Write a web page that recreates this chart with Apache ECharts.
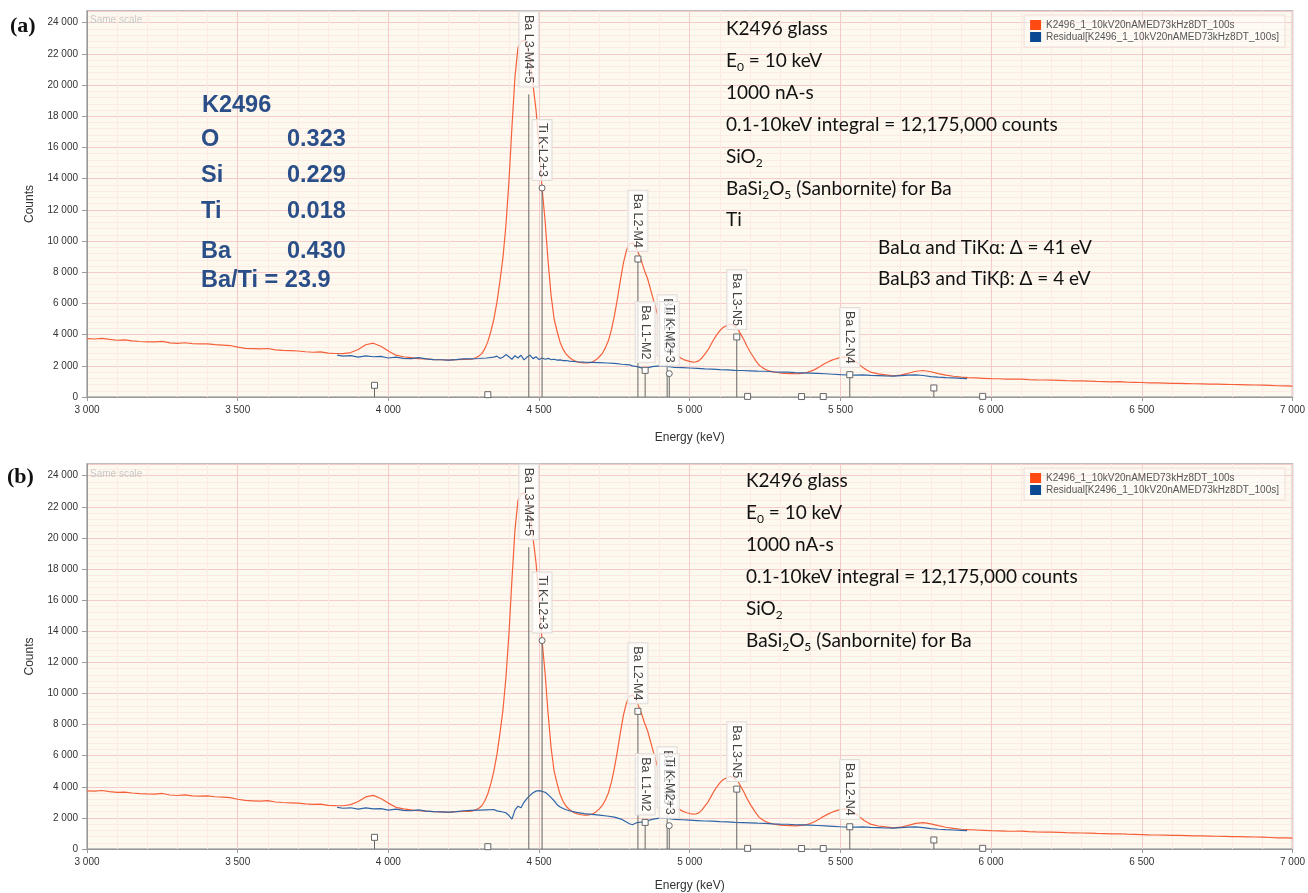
<!DOCTYPE html>
<html>
<head>
<meta charset="utf-8">
<script src="https://cdn.jsdelivr.net/npm/echarts@6/dist/echarts.min.js"></script>
<style>
  html, body { margin: 0; padding: 0; background: #fff; }
  #chart { width: 1308px; height: 893px; }
</style>
</head>
<body>
<div id="chart"></div>
<script>
// 能谱数据 (能量 eV, 计数)
var energy = [
  3000, 3025, 3050, 3075, 3100, 3125, 3150, 3175, 3200, 3225, 3250, 3275, 3300, 3325, 3350, 3375, 3400,
  3425, 3450, 3475, 3500, 3525, 3550, 3575, 3600, 3625, 3650, 3675, 3700, 3725, 3750, 3775, 3800, 3825,
  3850, 3875, 3900, 3925, 3950, 3975, 4000, 4025, 4050, 4075, 4100, 4125, 4150, 4175, 4200, 4225, 4250,
  4260, 4270, 4280, 4290, 4300, 4310, 4320, 4330, 4340, 4350, 4360, 4370, 4380, 4390, 4400, 4410, 4420,
  4430, 4440, 4450, 4460, 4470, 4480, 4490, 4500, 4510, 4520, 4530, 4540, 4550, 4560, 4570, 4580, 4590,
  4600, 4610, 4620, 4630, 4640, 4650, 4660, 4670, 4680, 4690, 4700, 4710, 4720, 4730, 4740, 4750, 4760,
  4770, 4780, 4790, 4800, 4810, 4820, 4830, 4840, 4850, 4860, 4870, 4880, 4890, 4900, 4910, 4920, 4930,
  4940, 4950, 4960, 4970, 4980, 4990, 5000, 5010, 5020, 5030, 5040, 5050, 5060, 5070, 5080, 5090, 5100,
  5110, 5120, 5130, 5140, 5150, 5160, 5170, 5180, 5190, 5200, 5210, 5220, 5230, 5240, 5250, 5260, 5270,
  5280, 5290, 5300, 5310, 5320, 5330, 5340, 5350, 5360, 5370, 5380, 5390, 5400, 5410, 5420, 5430, 5440,
  5450, 5460, 5470, 5480, 5490, 5500, 5510, 5520, 5530, 5540, 5550, 5560, 5570, 5580, 5590, 5600,
  5625, 5650, 5675, 5700, 5725, 5750, 5775, 5800, 5825, 5850, 5875, 5900, 5925, 5950, 5975, 6000, 6025,
  6050, 6075, 6100, 6125, 6150, 6175, 6200, 6225, 6250, 6275, 6300, 6325, 6350, 6375, 6400, 6425, 6450,
  6475, 6500, 6525, 6550, 6575, 6600, 6625, 6650, 6675, 6700, 6725, 6750, 6775, 6800, 6825, 6850, 6875,
  6900, 6925, 6950, 6975, 7000
];
var counts = [
  3740, 3720, 3760, 3690, 3640, 3660, 3600, 3560, 3540, 3530, 3570, 3470, 3440, 3480, 3420, 3400, 3410,
  3360, 3330, 3300, 3200, 3120, 3100, 3080, 3110, 3020, 2990, 2970, 2950, 2900, 2870, 2890, 2810, 2790,
  2780, 2850, 3050, 3350, 3450, 3250, 2950, 2680, 2580, 2520, 2460, 2440, 2400, 2390, 2360, 2400, 2410,
  2410, 2420, 2450, 2520, 2620, 2780, 3100, 3550, 4200, 5000, 6050, 7400, 8900, 11000, 13800, 17300, 20500,
  22400, 22800, 22900, 22600, 21600, 20000, 18400, 16000, 13400, 11300, 8700, 6500, 5000, 4200, 3500, 3050, 2750,
  2550, 2400, 2300, 2240, 2200, 2180, 2180, 2200, 2280, 2400, 2580, 2800, 3150, 3600, 4300, 5200, 6300,
  7500, 8600, 9400, 9800, 9900, 9700, 9200, 8700, 8100, 7600, 6900, 6200, 5500, 4800, 4300, 3800, 3400,
  3100, 2850, 2650, 2500, 2400, 2330, 2280, 2240, 2250, 2320, 2500, 2750, 3000, 3350, 3700, 4000, 4250,
  4450, 4550, 4650, 4650, 4500, 4350, 4000, 3650, 3250, 2900, 2600, 2300, 2050, 1900, 1780, 1700, 1640,
  1600, 1570, 1540, 1520, 1510, 1500, 1500, 1490, 1500, 1510, 1540, 1580, 1640, 1720, 1820, 1930, 2050,
  2160, 2260, 2350, 2420, 2480, 2540, 2570, 2560, 2500, 2400, 2270, 2120, 1960, 1820, 1700, 1600,
  1480, 1420, 1360, 1400, 1520, 1650, 1700, 1620, 1500, 1400, 1330, 1270, 1240, 1220, 1200, 1180, 1170,
  1150, 1140, 1150, 1120, 1100, 1090, 1080, 1070, 1050, 1040, 1030, 1020, 1000, 990, 970, 980, 950,
  940, 930, 910, 900, 890, 880, 870, 860, 850, 840, 830, 820, 810, 800, 790, 780, 770,
  760, 740, 720, 710, 700
];

// 残差 (a) 与 (b)
var resEnergy = [
  3830, 3850, 3875, 3900, 3925, 3950, 3975, 4000, 4025, 4050, 4075, 4100, 4125, 4150, 4175, 4200, 4225,
  4250, 4275, 4300, 4325, 4350, 4360, 4370, 4380, 4390, 4400, 4410, 4420, 4430, 4440, 4450, 4460, 4470,
  4480, 4490, 4500, 4510, 4520, 4530, 4540, 4550, 4560, 4570, 4580, 4590, 4600, 4625, 4650, 4675, 4700,
  4725, 4750, 4775, 4800, 4810, 4825, 4850, 4875, 4900, 4925, 4950, 4975, 5000, 5025, 5050, 5075, 5100,
  5125, 5150, 5175, 5200, 5225, 5250, 5275, 5300, 5325, 5350, 5375, 5400, 5425, 5450, 5475, 5500, 5525,
  5550, 5575, 5600, 5625, 5650, 5675, 5700, 5725, 5750, 5775, 5800, 5825, 5850, 5875, 5900, 5920
];
var residualA = [
  2680, 2620, 2650, 2560, 2640, 2580, 2600, 2500, 2560, 2480, 2460, 2520, 2440, 2400, 2390, 2370, 2400,
  2440, 2450, 2470, 2500, 2560, 2620, 2480, 2550, 2720, 2580, 2420, 2650, 2500, 2680, 2380, 2560, 2680,
  2460, 2580, 2400, 2500, 2420, 2480, 2400, 2420, 2360, 2380, 2330, 2340, 2300, 2260, 2230, 2220, 2200,
  2180, 2150, 2100, 2060, 2000, 1950, 1820, 1950, 2000, 1960, 1900, 1880, 1860, 1830, 1800, 1790, 1760,
  1740, 1710, 1700, 1680, 1660, 1650, 1620, 1600, 1590, 1560, 1550, 1530, 1510, 1490, 1460, 1430, 1410,
  1400, 1420, 1390, 1370, 1350, 1340, 1370, 1400, 1420, 1380, 1310, 1270, 1240, 1220, 1200, 1180
];
var residualB = [
  2680, 2620, 2650, 2560, 2640, 2580, 2600, 2500, 2560, 2480, 2460, 2520, 2440, 2400, 2390, 2370, 2400,
  2460, 2480, 2500, 2520, 2540, 2450, 2420, 2380, 2330, 2150, 1920, 2500, 2750, 2650, 3000, 3250, 3450,
  3620, 3720, 3750, 3700, 3650, 3500, 3300, 3100, 2850, 2700, 2600, 2520, 2460, 2360, 2280, 2230, 2180,
  2120, 2050, 1900, 1620, 1560, 1700, 1750, 1900, 1980, 1960, 1900, 1880, 1860, 1830, 1800, 1790, 1760,
  1740, 1710, 1700, 1680, 1660, 1650, 1620, 1600, 1590, 1560, 1550, 1530, 1510, 1490, 1460, 1430, 1410,
  1400, 1420, 1390, 1370, 1350, 1340, 1370, 1400, 1420, 1380, 1310, 1270, 1240, 1220, 1200, 1180
];

// KLM 谱线标记
var lineEnergy = [4466, 4510, 4828, 4852, 4925, 4932, 5156, 5531, 3954, 4330, 5192, 5371, 5443, 5810, 5972];
var lineTop = [19400, 13400, 8850, 1710, 2150, 1500, 3850, 1430, 750, 150, 40, 30, 30, 580, 40];
var lineLabel = ['Ba L3-M4+5', 'Ti K-L2+3', 'Ba L2-M4', 'Ba L1-M2', 'Ba L1-M3', 'Ti K-M2+3',
  'Ba L3-N5', 'Ba L2-N4', '', '', '', '', '', '', ''];
var noMarker = { 'Ba L3-M4+5': true, 'Ba L1-M3': true };

var specName = 'K2496_1_10kV20nAMED73kHz8DT_100s';
var resName = 'Residual[K2496_1_10kV20nAMED73kHz8DT_100s]';

var sans = '"Liberation Sans", Arial, sans-serif';
var noteFont = 'Lato, "Noto Sans", sans-serif';

var chart = echarts.init(document.getElementById('chart'));

function fmt(v) {
  return String(v).replace(/\B(?=(\d{3})+(?!\d))/g, ' ');
}

function pairs(xs, ys) {
  return xs.map(function (x, i) { return [x, ys[i]]; });
}

function makeX(idx, gap) {
  return {
    gridIndex: idx, type: 'value', min: 3000, max: 7000, interval: 500,
    name: 'Energy (keV)', nameLocation: 'middle', nameGap: gap,
    nameTextStyle: { fontSize: 12, color: '#333', fontFamily: sans },
    axisLine: { lineStyle: { color: '#999' } },
    axisTick: { length: 4, lineStyle: { color: '#999' } },
    axisLabel: { fontSize: 10, color: '#333', margin: 8, fontFamily: sans, formatter: fmt },
    splitLine: { lineStyle: { color: '#f6caca', width: 1 } },
    minorTick: { show: false, splitNumber: 5 },
    minorSplitLine: { show: true, lineStyle: { color: '#fcebe5', width: 1 } }
  };
}

function makeY(idx) {
  return {
    gridIndex: idx, type: 'value', min: 0, max: 24750, interval: 2000,
    name: 'Counts', nameLocation: 'middle', nameGap: 51, nameRotate: 90,
    nameTextStyle: { fontSize: 12, color: '#333', fontFamily: sans },
    axisLine: { show: true, lineStyle: { color: '#999' } },
    axisTick: { show: true, length: 5, lineStyle: { color: '#999' } },
    axisLabel: { fontSize: 10, color: '#333', margin: 9, fontFamily: sans, formatter: fmt, showMaxLabel: false },
    splitLine: { lineStyle: { color: '#f6caca', width: 1 } },
    minorTick: { show: false, splitNumber: 5 },
    minorSplitLine: { show: true, lineStyle: { color: '#fcebe5', width: 1 } }
  };
}

function renderLines(params, api) {
  var e = api.value(0);
  var c = api.value(1);
  var label = lineLabel[params.dataIndex];
  var base = api.coord([e, 0]);
  var top = api.coord([e, c]);
  var children = [{
    type: 'line',
    shape: { x1: base[0], y1: base[1], x2: top[0], y2: top[1] },
    style: { stroke: '#666', lineWidth: 1 }
  }];
  if (!noMarker[label]) {
    if (label.indexOf('Ti') === 0) {
      children.push({ type: 'circle', shape: { cx: top[0], cy: top[1], r: 3 },
        style: { fill: '#fff', stroke: '#666', lineWidth: 1 } });
    } else {
      children.push({ type: 'rect', shape: { x: top[0] - 3, y: top[1] - 3, width: 6, height: 6 },
        style: { fill: '#fff', stroke: '#666', lineWidth: 1 } });
    }
  }
  if (label) {
    children.push({
      type: 'text', x: top[0], y: top[1] - 8, rotation: -Math.PI / 2,
      style: {
        text: label, align: 'right', verticalAlign: 'middle',
        fontSize: 12.5, fontFamily: sans, fill: '#444',
        backgroundColor: 'rgba(255,255,255,0.72)', borderColor: '#e2dcd8', borderWidth: 1,
        padding: [3, 3]
      }
    });
  }
  return { type: 'group', children: children };
}

function panelSeries(idx, residual) {
  return [
    {
      type: 'line', name: specName, xAxisIndex: idx, yAxisIndex: idx,
      data: pairs(energy, counts), showSymbol: false, silent: true, z: 2,
      lineStyle: { color: '#f5603a', width: 1.2 }, itemStyle: { color: '#f5603a' }
    },
    {
      type: 'line', name: resName, xAxisIndex: idx, yAxisIndex: idx,
      data: pairs(resEnergy, residual), showSymbol: false, silent: true, z: 3,
      lineStyle: { color: '#2e64a6', width: 1.2 }, itemStyle: { color: '#2e64a6' }
    },
    {
      type: 'custom', xAxisIndex: idx, yAxisIndex: idx, z: 4, silent: true,
      data: pairs(lineEnergy, lineTop), renderItem: renderLines
    }
  ];
}

function makeLegend(top) {
  return {
    top: top, right: 23, orient: 'vertical', icon: 'rect',
    itemWidth: 11, itemHeight: 10, itemGap: 2, padding: [5, 6],
    backgroundColor: 'rgba(255,255,255,0.35)', borderColor: '#f0dcd8', borderWidth: 1,
    textStyle: { fontSize: 10, color: '#555', fontFamily: sans },
    data: [
      { name: specName, itemStyle: { color: '#ff4a14' } },
      { name: resName, itemStyle: { color: '#0b4a92' } }
    ]
  };
}

var rich = {
  n: { fontSize: 19, fontFamily: noteFont, fill: '#111', lineHeight: 24 },
  s: { fontSize: 12, fontFamily: noteFont, fill: '#111', lineHeight: 13, verticalAlign: 'bottom' }
};

function note(x, y, text) {
  return { type: 'text', x: x, y: y, z: 10,
    style: { text: text, rich: rich, verticalAlign: 'middle' } };
}

function blue(x, y, text) {
  return { type: 'text', x: x, y: y, z: 10,
    style: { text: text, verticalAlign: 'middle', font: 'bold 23.5px ' + sans, fill: '#2a4e88' } };
}

function small(x, y, text, font, fill) {
  return { type: 'text', x: x, y: y, z: 10,
    style: { text: text, verticalAlign: 'middle', font: font, fill: fill } };
}

var notesA = [
  note(726, 29, '{n|K2496 glass}'),
  note(726, 61, '{n|E}{s|0}{n| = 10 keV}'),
  note(726, 93, '{n|1000 nA-s}'),
  note(726, 125, '{n|0.1-10keV integral = 12,175,000 counts}'),
  note(726, 157, '{n|SiO}{s|2}'),
  note(726, 189, '{n|BaSi}{s|2}{n|O}{s|5}{n| (Sanbornite) for Ba}'),
  note(726, 220, '{n|Ti}'),
  note(878, 248, '{n|BaLα and TiKα: Δ = 41 eV}'),
  note(878, 279, '{n|BaLβ3 and TiKβ: Δ = 4 eV}'),
  blue(202, 106, 'K2496'),
  blue(201, 140, 'O'), blue(287, 140, '0.323'),
  blue(201, 176, 'Si'), blue(287, 176, '0.229'),
  blue(201, 212, 'Ti'), blue(287, 212, '0.018'),
  blue(201, 252, 'Ba'), blue(287, 252, '0.430'),
  blue(201, 281, 'Ba/Ti = 23.9'),
  small(10, 26, '(a)', 'bold 22px "Liberation Serif", serif', '#111'),
  small(90, 20, 'Same scale', '10px ' + sans, '#c9c9c9')
];

var notesB = [
  note(746, 481, '{n|K2496 glass}'),
  note(746, 513, '{n|E}{s|0}{n| = 10 keV}'),
  note(746, 545, '{n|1000 nA-s}'),
  note(746, 577, '{n|0.1-10keV integral = 12,175,000 counts}'),
  note(746, 609, '{n|SiO}{s|2}'),
  note(746, 641, '{n|BaSi}{s|2}{n|O}{s|5}{n| (Sanbornite) for Ba}'),
  small(7, 477, '(b)', 'bold 22px "Liberation Serif", serif', '#111'),
  small(90, 474, 'Same scale', '10px ' + sans, '#c9c9c9')
];

var option = {
  animation: false,
  backgroundColor: '#fff',
  grid: [
    { left: 87, top: 11, width: 1208, height: 386, show: true,
      backgroundColor: '#fdf9ef', borderColor: '#aaa', borderWidth: 1.5 },
    { left: 87, top: 464, width: 1208, height: 386, show: true,
      backgroundColor: '#fdf9ef', borderColor: '#aaa', borderWidth: 1.5 }
  ],
  xAxis: [makeX(0, 35), makeX(1, 31)],
  yAxis: [makeY(0), makeY(1)],
  legend: [makeLegend(15), makeLegend(468)],
  series: panelSeries(0, residualA).concat(panelSeries(1, residualB)),
  graphic: notesA.concat(notesB)
};

chart.setOption(option);
</script>
</body>
</html>
